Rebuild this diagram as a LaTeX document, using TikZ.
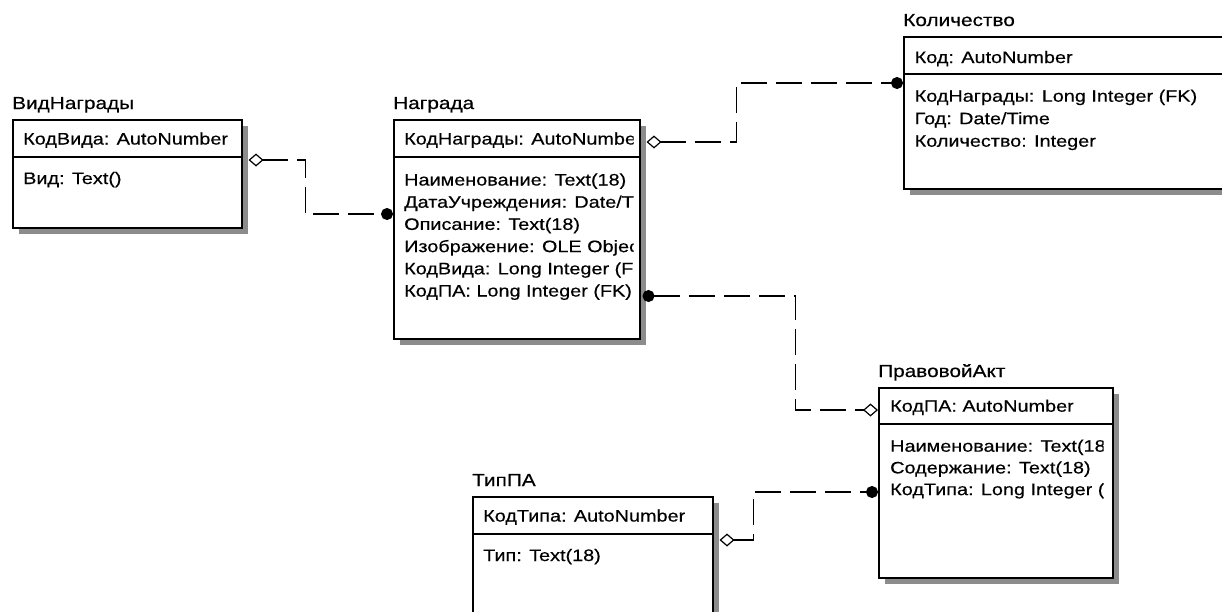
\documentclass[tikz,border=0pt]{standalone}
\usepackage{fontspec}
\setmainfont{Liberation Sans}[FakeStretch=1.195,FakeBold=0.4]
\usepackage{tikz}
\usetikzlibrary{arrows.meta,positioning,shadows}

\tikzset{
  odiam/.tip={Diamond[open,length=15pt,width=13pt,line width=1.2pt]},
  fdot/.tip={Circle[length=12pt]}
}

\begin{document}
\begin{tikzpicture}[x=1pt,y=-1pt,
  entity/.style={draw=black,fill=white,line width=1.5pt,anchor=north west,inner sep=0pt,
    drop shadow={shadow xshift=6pt,shadow yshift=-6pt,fill=black!45,opacity=1}},
  title/.style={anchor=base west,inner sep=0pt,font=\fontsize{17.4}{20}\selectfont},
  field/.style={anchor=base west,inner sep=0pt,font=\fontsize{16.6}{20}\selectfont},
  divider/.style={line width=1.5pt},
  rel/.style={line width=1.3pt,dash pattern=on 26pt off 9pt}
]
  \clip (0,0) rectangle (1222,611);
  \fill[white] (0,0) rectangle (1222,611);

  % entities
  \node[entity,minimum width=229,minimum height=108] (vid) at (12,119) {};
  \node[entity,minimum width=246,minimum height=219] (nagr) at (393,119) {};
  \node[entity,minimum width=337,minimum height=152] (kol) at (903,36) {};
  \node[entity,minimum width=234,minimum height=190] (pa) at (878,387) {};
  \node[entity,minimum width=240,minimum height=134] (tip) at (472,496) {};

  \node[title] (vidtitle) at ([shift={(0pt,10pt)}]vid.north west) {ВидНаграды};
  \node[title] (nagrtitle) at ([shift={(0pt,10pt)}]nagr.north west) {Награда};
  \node[title] (koltitle) at ([shift={(0pt,10pt)}]kol.north west) {Количество};
  \node[title] (patitle) at ([shift={(0pt,10pt)}]pa.north west) {ПравовойАкт};
  \node[title] (tiptitle) at ([shift={(0pt,10pt)}]tip.north west) {ТипПА};

  \draw[divider] ([yshift=-38pt]vid.north west) -- ([yshift=-38pt]vid.north east);
  \draw[divider] ([yshift=-38pt]nagr.north west) -- ([yshift=-38pt]nagr.north east);
  \draw[divider] ([yshift=-38pt]kol.north west) -- ([yshift=-38pt]kol.north east);
  \draw[divider] ([yshift=-37pt]pa.north west) -- ([yshift=-37pt]pa.north east);
  \draw[divider] ([yshift=-38pt]tip.north west) -- ([yshift=-38pt]tip.north east);

  % ВидНаграды
  \begin{scope}
    \clip (vid.north west) rectangle ([xshift=-8pt]vid.south east);
    \node[field] (vidkey) at ([shift={(11pt,-25.5pt)}]vid.north west) {КодВида: AutoNumber};
    \node[field] (vid1) at ([shift={(11pt,-65pt)}]vid.north west) {Вид: Text()};
  \end{scope}

  % Награда
  \begin{scope}
    \clip (nagr.north west) rectangle ([xshift=-7pt]nagr.south east);
    \node[field] (nagrkey) at ([shift={(11pt,-25.5pt)}]nagr.north west) {КодНаграды: AutoNumber};
    \node[field] (nagr1) at ([shift={(11pt,-66.5pt)}]nagr.north west) {Наименование: Text(18)};
    \node[field] (nagr2) at ([yshift=-22.2pt]nagr1.base west) {ДатаУчреждения: Date/Time};
    \node[field] (nagr3) at ([yshift=-22.2pt]nagr2.base west) {Описание: Text(18)};
    \node[field] (nagr4) at ([yshift=-22.2pt]nagr3.base west) {Изображение: OLE Object};
    \node[field] (nagr5) at ([yshift=-22.2pt]nagr4.base west) {КодВида: Long Integer (FK)};
    \node[field] (nagr6) at ([yshift=-22.2pt]nagr5.base west) {КодПА: Long Integer (FK)};
  \end{scope}

  % Количество
  \begin{scope}
    \clip (kol.north west) rectangle ([xshift=-8pt]kol.south east);
    \node[field] (kolkey) at ([shift={(11.5pt,-27pt)}]kol.north west) {Код: AutoNumber};
    \node[field] (kol1) at ([shift={(11.5pt,-65.7pt)}]kol.north west) {КодНаграды: Long Integer (FK)};
    \node[field] (kol2) at ([yshift=-22.5pt]kol1.base west) {Год: Date/Time};
    \node[field] (kol3) at ([yshift=-22.5pt]kol2.base west) {Количество: Integer};
  \end{scope}

  % ПравовойАкт
  \begin{scope}
    \clip (pa.north west) rectangle ([xshift=-10pt]pa.south east);
    \node[field] (pakey) at ([shift={(12pt,-24.7pt)}]pa.north west) {КодПА: AutoNumber};
    \node[field] (pa1) at ([shift={(12pt,-64.7pt)}]pa.north west) {Наименование: Text(18)};
    \node[field] (pa2) at ([yshift=-21.7pt]pa1.base west) {Содержание: Text(18)};
    \node[field] (pa3) at ([yshift=-21.7pt]pa2.base west) {КодТипа: Long Integer (FK)};
  \end{scope}

  % ТипПА
  \begin{scope}
    \clip (tip.north west) rectangle ([xshift=-8pt]tip.south east);
    \node[field] (tipkey) at ([shift={(11pt,-25.5pt)}]tip.north west) {КодТипа: AutoNumber};
    \node[field] (tip1) at ([shift={(11pt,-65pt)}]tip.north west) {Тип: Text(18)};
  \end{scope}

  % relationships
  \draw[rel,odiam-fdot] ([shift={(6pt,-41pt)}]vid.north east) -- ++(57,0) |- ([yshift=-95pt]nagr.north west);
  \draw[rel,odiam-fdot] ([shift={(6pt,-23pt)}]nagr.north east) -- ++(90,0) |- ([yshift=-47pt]kol.north west);
  \draw[rel,fdot-odiam] ([shift={(2pt,-177pt)}]nagr.north east) -- ++(153,0) |- ([yshift=-23pt]pa.north west);
  \draw[rel,odiam-fdot] ([shift={(6pt,-44pt)}]tip.north east) -- ++(34,0) |- ([yshift=-105pt]pa.north west);
\end{tikzpicture}
\end{document}
